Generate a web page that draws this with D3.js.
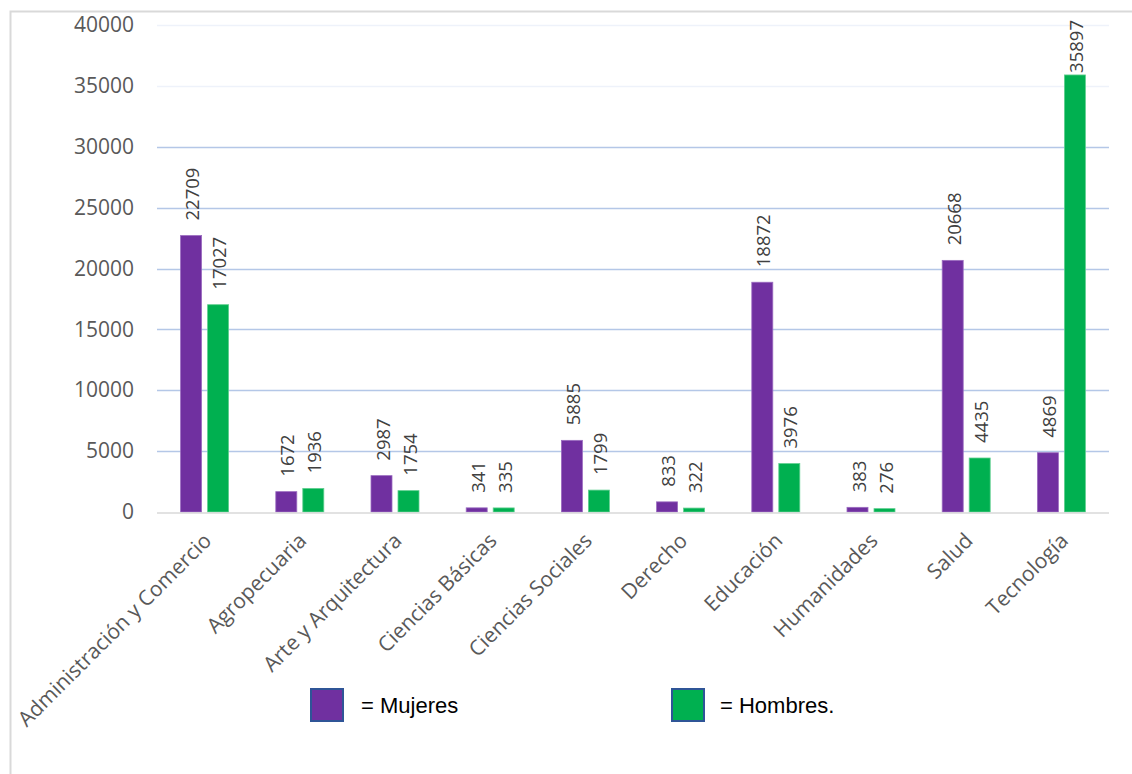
<!DOCTYPE html>
<html><head><meta charset="utf-8">
<script src="https://cdn.jsdelivr.net/npm/d3@7"></script>
<style>body{margin:0;background:#fff}svg{display:block}</style>
</head><body>
<svg id="c" width="1132" height="774"></svg>
<script>
const categories = ["Administración y Comercio","Agropecuaria","Arte y Arquitectura","Ciencias Básicas","Ciencias Sociales","Derecho","Educación","Humanidades","Salud","Tecnología"];
const mujeres = [22709,1672,2987,341,5885,833,18872,383,20668,4869];
const hombres = [17027,1936,1754,335,1799,322,3976,276,4435,35897];
const yTicks = [0,5000,10000,15000,20000,25000,30000,35000,40000];
const seriesNames = ["= Mujeres","= Hombres."];
const colors = ["#7030a0","#00b050"];

const svg = d3.select("#c");
const font = "'Open Sans', sans-serif";
// frame
svg.append("path").attr("d","M10.5,774 V11.5 H1132").attr("fill","none").attr("stroke","#d9d9d9").attr("stroke-width",2);

const pL=157, pR=1109, pT=25, pB=512;
const x = d3.scaleBand().domain(categories).range([pL,pR]);
const y = d3.scaleLinear().domain([0,40000]).range([pB,pT]);

// gridlines
svg.append("g").selectAll("line").data(yTicks.filter(d=>d>0)).join("line")
  .attr("x1",pL).attr("x2",pR).attr("y1",d=>Math.round(y(d))+0.5).attr("y2",d=>Math.round(y(d))+0.5)
  .attr("stroke",d=>d>=35000?"#eef2fa":"#b4c7e7").attr("stroke-width",1.5);

// y axis labels
const ya = svg.append("g").attr("transform",`translate(${pL},0)`)
  .call(d3.axisLeft(y).tickValues(yTicks).tickSize(0).tickPadding(23).tickFormat(d3.format("d")));
ya.select(".domain").remove();
ya.selectAll("text").attr("font-family",font).attr("font-size",21).attr("fill","#595959");

const bw = 21, gap = 6;
const data = categories.map((c,i)=>({c, v:[mujeres[i],hombres[i]]}));
const g = svg.append("g");
data.forEach(d=>{
  const cx = x(d.c)+x.bandwidth()/2;
  d.v.forEach((v,k)=>{
    const bx = k===0 ? cx-gap/2-bw : cx+gap/2;
    g.append("rect").attr("x",bx).attr("y",y(v)).attr("width",bw).attr("height",y(0)-y(v))
      .attr("fill",colors[k]).attr("stroke",k===0?"#9b6cc0":"#5fcf8f").attr("stroke-width",0.8);
    const t = g.append("text").attr("font-family",font).attr("font-size",18.5).attr("fill","#404040").text(v);
    const len = t.node().getComputedTextLength();
    const ly = Math.max(y(v)-15, 20+len);
    t.attr("transform",`translate(${bx+bw/2+8},${ly}) rotate(-90)`);
  });
});

// x axis line
svg.append("line").attr("x1",pL).attr("x2",pR).attr("y1",pB+1).attr("y2",pB+1).attr("stroke","#d9d9d9").attr("stroke-width",1.5);

// x labels
const xa = svg.append("g").attr("transform",`translate(0,${pB})`).call(d3.axisBottom(x).tickSize(0).tickPadding(0));
xa.select(".domain").remove();
xa.selectAll("text").attr("font-family",font).attr("font-size",21).attr("fill","#595959")
  .attr("text-anchor","end").attr("dy",null).attr("y",null)
  .attr("transform","translate(8,30) rotate(-45)");

// legend
const leg = [{x:311,tx:361},{x:672,tx:720}];
leg.forEach((l,i)=>{
  svg.append("rect").attr("x",l.x).attr("y",689).attr("width",32).attr("height",32)
    .attr("fill",colors[i]).attr("stroke","#2f5597").attr("stroke-width",2);
  svg.append("text").attr("x",l.tx).attr("y",713).attr("font-family","'Liberation Sans', sans-serif").attr("font-size",22)
    .attr("fill","#000").text(seriesNames[i]);
});
</script>
</body></html>
